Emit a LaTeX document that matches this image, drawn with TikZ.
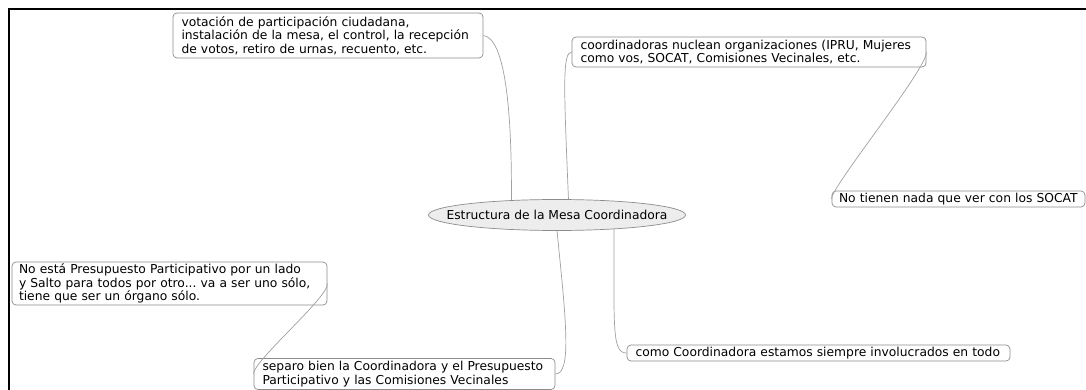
\documentclass[tikz,border=0pt]{standalone}
\usepackage{fontspec}
\setmainfont{DejaVu Sans}
\frenchspacing
\usetikzlibrary{shapes.geometric}
\definecolor{boxline}{HTML}{8C8C8C}
\definecolor{conline}{HTML}{A0A0A0}
\definecolor{ellfill}{HTML}{EDEDED}
\begin{document}
\begin{tikzpicture}[x=1pt,y=-1pt,
  note/.style={draw=boxline,line width=0.7pt,rounded corners=4pt,fill=white,
    font=\fontsize{12.3}{13.3}\selectfont\frenchspacing,align=left,inner xsep=8.5pt,inner ysep=1pt},
  topic/.style={ellipse,draw=boxline,line width=0.7pt,fill=ellfill,
    font=\fontsize{12.3}{13.3}\selectfont,inner xsep=-20pt,inner ysep=0pt,
    minimum width=257pt,minimum height=31pt},
  link/.style={draw=conline,line width=0.7pt}]
\useasboundingbox (0,0) rectangle (1086,390);
\draw[line width=2.6pt,black] (9,390) -- (9,9) -- (1086,9);

\node[topic] (ell) at (557,215) {Estructura de la Mesa Coordinadora};

\node[note,text width=293pt,minimum height=45pt] (vot) at (328,35.5)
  {votación de participación ciudadana,\\instalación de la mesa, el control, la recepción\\de votos, retiro de urnas, recuento, etc.};
\node[note,text width=337pt,minimum height=30pt] (coord) at (749,52)
  {coordinadoras nuclean organizaciones (IPRU, Mujeres\\como vos, SOCAT, Comisiones Vecinales, etc.};
\node[note,inner xsep=7pt,text width=239pt,minimum height=16pt] (socat) at (958.5,199)
  {No tienen nada que ver con los SOCAT};
\node[note,inner xsep=7pt,text width=301pt,minimum height=43pt] (nopre) at (169.5,283.5)
  {No está Presupuesto Participativo por un lado\\y Salto para todos por otro... va a ser uno sólo,\\tiene que ser un órgano sólo.};
\node[note,text width=284pt,minimum height=31pt] (separo) at (404.5,374)
  {separo bien la Coordinadora y el Presupuesto\\Participativo y las Comisiones Vecinales};
\node[note,text width=366pt,minimum height=16pt] (como) at (818.5,353)
  {como Coordinadora estamos siempre involucrados en todo};

\draw[link] (ell.162) .. controls (512,110) and (505,38) .. (vot.east);
\draw[link] (ell.54) .. controls (564,90) and (562,52) .. (coord.west);
\draw[link] (coord.east) .. controls (928,68) and (830,188) .. (socat.west);
\draw[link] (ell.270) .. controls (566,320) and (572,374) .. (separo.east);
\draw[link] (separo.west) .. controls (252,362) and (330,296) .. (nopre.east);
\draw[link] (ell.346) .. controls (614,330) and (612,353) .. (como.west);
\end{tikzpicture}
\end{document}
